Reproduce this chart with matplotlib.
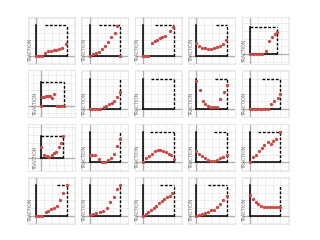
import matplotlib
matplotlib.use("Agg")
import matplotlib.pyplot as plt
from matplotlib.ticker import MultipleLocator

label_text = "TRACTION"

x01 = [0, 0.09, 0.19, 0.28, 0.38, 0.47, 0.57, 0.66, 0.76, 0.85, 0.99]
y01 = [0, 0, 0, 0.10, 0.17, 0.17, 0.18, 0.19, 0.22, 0.24, 0.38]
x02 = [0, 0.11, 0.2, 0.3, 0.4, 0.5, 0.61, 0.71, 0.82, 0.91, 1.0]
y02 = [0, 0.05, 0.08, 0.13, 0.23, 0.33, 0.44, 0.60, 0.76, 0.99, 0]
x03 = [0, 0.08, 0.17, 0.29, 0.4, 0.47, 0.55, 0.63, 0.72, 0.89, 0.97]
y03 = [0, 0, 0, 0.42, 0.48, 0.52, 0.58, 0.62, 0.64, 0.80, 0.95]
x04 = [0, 0.1, 0.19, 0.29, 0.38, 0.48, 0.57, 0.67, 0.77, 0.86, 0.98]
y04 = [0.41, 0.33, 0.27, 0.24, 0.23, 0.23, 0.24, 0.28, 0.33, 0.40, 0.52]
x05 = [0, 0.11, 0.22, 0.33, 0.44, 0.59, 0.71, 0.8, 0.9, 1.0]
y05 = [0, 0, 0, 0, 0, 0.09, 0.49, 0.63, 0.72, 0.80]
x06 = [0, 0.06, 0.15, 0.24, 0.32, 0.41, 0.5, 0.59, 0.7, 0.8, 0.9, 1.0]
y06 = [0, 0.36, 0.39, 0.41, 0.43, 0.40, 0.31, 0.49, 0, 0, 0, 0]
x07 = [0, 0.09, 0.17, 0.26, 0.35, 0.46, 0.54, 0.63, 0.72, 0.8, 0.91, 1.0]
y07 = [0, 0, 0, 0, 0, 0.06, 0.10, 0.15, 0.20, 0.28, 0.39, 0.56]
x08 = []
y08 = []
x09 = [0, 0.11, 0.2, 0.29, 0.38, 0.48, 0.57, 0.66, 0.78, 0.89, 1.0]
y09 = [0.92, 0.62, 0.28, 0.18, 0.09, 0.06, 0.06, 0.07, 0.32, 0.55, 0.79]
x10 = [0, 0.08, 0.16, 0.25, 0.33, 0.41, 0.49, 0.58, 0.7, 0.8, 0.91, 1.0]
y10 = [0, 0, 0, 0, 0, 0, 0, 0, 0.16, 0.27, 0.35, 0.48]
x11 = [0, 0.15, 0.26, 0.38, 0.51, 0.6, 0.69, 0.82, 0.91, 1.0]
y11 = [0.48, 0.11, 0.08, 0.05, 0.11, 0.20, 0.28, 0.51, 0.69, 1.0]
x12 = [0, 0.09, 0.18, 0.3, 0.39, 0.5, 0.61, 0.7, 0.8, 0.89, 1.0]
y12 = [0.23, 0.23, 0.23, 0.11, 0, 0, 0.07, 0.15, 0.26, 0.52, 0.75]
x13 = [0, 0.11, 0.2, 0.3, 0.4, 0.48, 0.57, 0.66, 0.74, 0.84, 0.92, 1.0]
y13 = [0, 0.13, 0.22, 0.29, 0.36, 0.40, 0.40, 0.38, 0.35, 0.29, 0.24, 0.11]
x14 = [0, 0.1, 0.19, 0.29, 0.39, 0.48, 0.58, 0.68, 0.77, 0.87, 1.0]
y14 = [0.38, 0.26, 0.20, 0.14, 0.09, 0.04, 0.06, 0.09, 0.13, 0.16, 0.25]
x15 = [0, 0.1, 0.19, 0.29, 0.39, 0.48, 0.58, 0.68, 0.77, 0.87, 1.0]
y15 = [0, 0.19, 0.24, 0.38, 0.47, 0.58, 0.67, 0.60, 0.69, 0.77, 1.0]
x16 = [0, 0.09, 0.19, 0.31, 0.4, 0.49, 0.59, 0.68, 0.78, 0.89, 1.0]
y16 = [0, 0, 0, 0.11, 0.16, 0.21, 0.26, 0.33, 0.51, 0.75, 1.0]
x17 = [0, 0.12, 0.22, 0.33, 0.45, 0.57, 0.67, 0.79, 0.9, 1.0]
y17 = [0.01, 0.05, 0.08, 0.12, 0.15, 0.24, 0.44, 0.62, 0.86, 1.0]
x18 = [0, 0.09, 0.17, 0.26, 0.35, 0.43, 0.52, 0.61, 0.7, 0.78, 0.87, 0.96]
y18 = [0, 0.05, 0.13, 0.20, 0.26, 0.33, 0.40, 0.47, 0.53, 0.60, 0.66, 0.74]
x19 = [0, 0.1, 0.19, 0.29, 0.38, 0.48, 0.57, 0.67, 0.78, 0.88, 1.0]
y19 = [0, 0.02, 0.05, 0.09, 0.12, 0.17, 0.20, 0.27, 0.38, 0.51, 0.66]
x20 = [0, 0.09, 0.19, 0.28, 0.38, 0.47, 0.57, 0.66, 0.76, 0.85, 0.95, 1.0]
y20 = [0.68, 0.56, 0.45, 0.37, 0.32, 0.29, 0.28, 0.28, 0.28, 0.28, 0.28, 0.28]

# where the dashed top edge starts (None = no top edge)
top_start = [0.3, 0.3, 0.4, 0.63, 0.0,
             0.0, None, 0.27, 0.62, 0.41,
             0.0, None, 0.22, 0.57, 0.27,
             0.67, None, 0.54, 0.39, None]

# axis limits per panel (most panels share the default)
default_lim = (-0.27, 1.27)
x_lims = {4: (-0.31, 1.41), 5: (-0.55, 1.49), 10: (-0.6, 1.57)}
y_lims = {4: (-0.37, 1.35), 5: (-0.5, 1.52), 10: (-0.59, 1.57)}

xs = [x01, x02, x03, x04, x05, x06, x07, x08, x09, x10,
      x11, x12, x13, x14, x15, x16, x17, x18, x19, x20]
ys = [y01, y02, y03, y04, y05, y06, y07, y08, y09, y10,
      y11, y12, y13, y14, y15, y16, y17, y18, y19, y20]

W, H = 320, 240
fig = plt.figure(figsize=(3.2, 2.4), dpi=100)
fig.patch.set_facecolor("white")

pw, ph = 47, 47
for i in range(20):
    r, c = divmod(i, 5)
    left_px = 28 + 53.4 * c
    top_px = 17 + 53.3 * r
    ax = fig.add_axes([left_px / W, 1 - (top_px + ph) / H, pw / W, ph / H])
    xl = x_lims.get(i, default_lim)
    yl = y_lims.get(i, default_lim)
    ax.set_xlim(*xl)
    ax.set_ylim(*yl)
    ax.xaxis.set_major_locator(MultipleLocator(0.25 * (xl[1] - xl[0]) / 1.54))
    ax.yaxis.set_major_locator(MultipleLocator(0.25 * (yl[1] - yl[0]) / 1.54))
    ax.tick_params(length=0, labelbottom=False, labelleft=False)
    ax.grid(True, color="#ebebeb", lw=0.6)
    ax.set_axisbelow(True)
    for s in ax.spines.values():
        s.set_color("#e4e4e4")
        s.set_linewidth(0.6)
    ax.axhline(0, color="#b0b0b0", lw=1.0, zorder=1)
    ax.axvline(0, color="#b0b0b0", lw=1.0, zorder=1)
    ax.plot([0, 1], [0, 0], color="black", lw=1.1, zorder=2)
    ax.plot([0, 0], [0, 1], color="black", lw=1.1, zorder=2)
    ax.plot([1, 1], [0, 1], color="black", lw=1.0, ls=(0, (2, 1.2)), zorder=2)
    if top_start[i] is not None:
        ax.plot([top_start[i], 1], [1, 1], color="black", lw=1.0,
                ls=(0, (2, 1.2)), zorder=2)
    if len(xs[i]):
        ax.plot(xs[i], ys[i], "o", color="#c94a45", ms=2.4, mew=0, zorder=3)
    ax.text(-0.17 * (xl[1] - xl[0]) / 1.54, yl[0] + 0.05, label_text,
            rotation=90, fontsize=3.3, color="#777777",
            ha="center", va="bottom")

fig.savefig("out.png", dpi=100)
